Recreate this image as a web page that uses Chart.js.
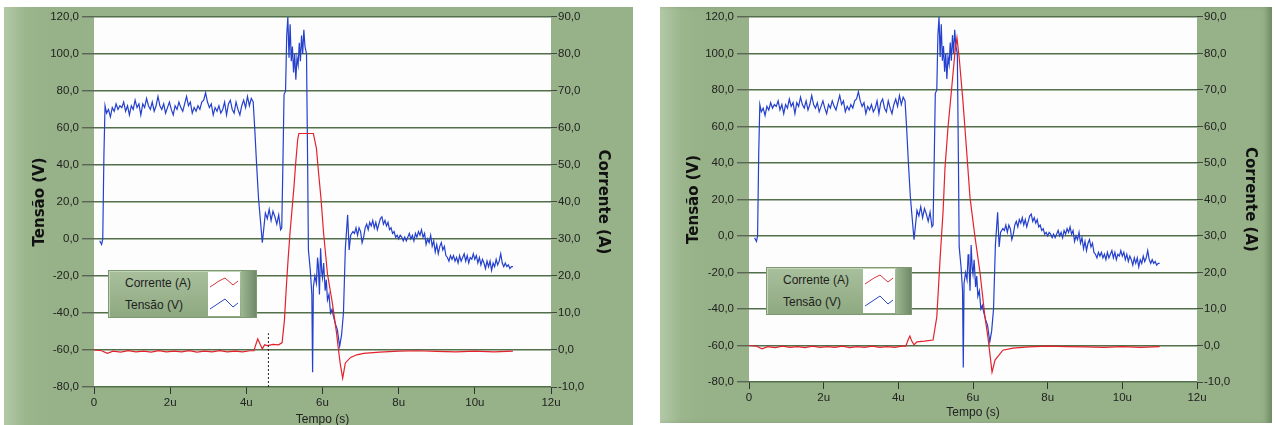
<!DOCTYPE html>
<html>
<head>
<meta charset="utf-8">
<script src="https://cdn.jsdelivr.net/npm/chart.js@4.4.1/dist/chart.umd.min.js"></script>
<style>
  body { margin: 0; width: 1275px; height: 425px; overflow: hidden; background: #fff; position: relative; font-family: "Liberation Sans", Arial, sans-serif; }
  .panel { position: absolute; background: linear-gradient(to right, #b3c9a6 0px, #9bb58d 22px, #97b288 40px); }
  .panel canvas { position: absolute; left: 0; top: 0; }
  .legend { position: absolute; height: 46px; background: linear-gradient(#a9bf9c, #8ea981); border: 1px solid #7f9a72; box-shadow: inset 1px 1px 0 #c3d5b8; }
  .legend .row { position: absolute; left: 16px; font-size: 12px; color: #1e1e1e; }
  .legend .sw { position: absolute; top: 1px; width: 32px; height: 44px; background: #fff; }
  .legend .bevel { position: absolute; top: 0; right: 0; width: 15px; height: 46px; background: linear-gradient(to right, #9db791, #71896a); }
</style>
</head>
<body>
<div class="panel" style="left:4px;top:7px;width:629px;height:418px">
  <canvas id="c1" width="629" height="418"></canvas>
  <div class="legend" style="left:104px;top:263px;width:147px">
    <div class="row" style="top:5px">Corrente (A)</div>
    <div class="row" style="top:27px">Tensão (V)</div>
    <div class="sw" style="left:99px">
      <svg width="32" height="44"><polyline points="2,15 11,9 17,6 25,13 30,9" fill="none" stroke="#d8353b" stroke-width="1"/><polyline points="2,37 11,31 17,27 25,35 30,31" fill="none" stroke="#2b46c6" stroke-width="1"/></svg>
    </div>
    <div class="bevel"></div>
  </div>
</div>
<div class="panel" style="left:660px;top:7px;width:612px;height:416px;box-shadow: inset -7px 0 6px -3px #6d8762;">
  <canvas id="c2" width="612" height="416"></canvas>
  <div class="legend" style="left:106px;top:260px;width:144px">
    <div class="row" style="top:5px">Corrente (A)</div>
    <div class="row" style="top:27px">Tensão (V)</div>
    <div class="sw" style="left:96px">
      <svg width="32" height="44"><polyline points="2,15 11,9 17,6 25,13 30,9" fill="none" stroke="#d8353b" stroke-width="1"/><polyline points="2,37 11,31 17,27 25,35 30,31" fill="none" stroke="#2b46c6" stroke-width="1"/></svg>
    </div>
    <div class="bevel"></div>
  </div>
</div>
<script>
// time in microseconds, tension in volts (left axis)
const tensao = [
  [0.15,-1],[0.20,-3],[0.23,0],[0.26,45],[0.29,72],
  [0.33,68],[0.38,70],[0.43,66],[0.48,71],[0.53,69],[0.58,73],[0.63,70],[0.68,72],[0.73,71],[0.78,74],[0.83,69],[0.88,72],[0.93,67],[0.98,72],
  [1.03,70],[1.08,75],[1.13,71],[1.18,73],[1.23,67],[1.28,73],[1.33,71],[1.38,76],[1.43,72],[1.48,70],[1.53,74],[1.58,69],[1.63,72],[1.68,77],[1.73,72],[1.78,70],[1.83,73],[1.88,68],[1.93,71],[1.98,74],
  [2.03,70],[2.08,67],[2.13,72],[2.18,70],[2.23,74],[2.28,71],[2.33,69],[2.38,73],[2.43,77],[2.48,72],[2.53,74],[2.58,68],[2.63,71],[2.68,69],[2.73,72],[2.78,70],[2.83,74],[2.88,75],[2.93,79],[2.98,74],
  [3.03,71],[3.08,73],[3.13,67],[3.18,71],[3.23,69],[3.28,72],[3.33,68],[3.38,70],[3.43,74],[3.48,67],[3.53,73],[3.58,75],[3.63,70],[3.68,68],[3.73,74],[3.78,70],[3.83,67],[3.88,72],[3.93,75],[3.98,71],
  [4.03,77],[4.08,72],[4.13,76],[4.18,74],
  [4.22,60],[4.27,40],[4.32,22],[4.37,10],[4.42,-2],[4.46,6],[4.50,14],[4.55,11],[4.60,16],[4.65,10],[4.70,15],[4.75,12],[4.80,8],[4.85,13],[4.90,5],[4.93,6],
  [4.96,40],[4.99,78],[5.03,80],[5.06,110],[5.09,120],[5.12,98],[5.15,116],[5.18,96],[5.21,104],[5.24,90],[5.27,100],[5.30,86],[5.33,98],[5.36,94],[5.39,106],[5.42,96],[5.45,110],[5.48,100],[5.51,113],[5.54,104],[5.58,100],
  [5.61,40],[5.63,-6],[5.68,-17],[5.72,-30],[5.74,-72],[5.76,-26],[5.80,-20],[5.84,-24],[5.87,-10],[5.89,-14],[5.92,-30],[5.95,-5],[5.98,-18],[6.00,-21],[6.03,-13],[6.07,-28],[6.10,-22],[6.13,-33],[6.17,-30],[6.21,-40],[6.25,-38],[6.29,-42],[6.34,-46],[6.39,-49],[6.45,-58],[6.50,-52],[6.55,-40],[6.60,-5],[6.66,13],[6.70,-6],[6.74,2],
  [6.80,4],[6.84,3],[6.88,6],[6.92,2],[6.96,6],[7.00,4],[7.04,-2],[7.08,1],[7.12,6],[7.16,8],[7.20,5],[7.24,9],[7.28,7],[7.32,10],[7.36,6],[7.40,9],[7.44,5],[7.48,8],[7.52,11],[7.56,12],[7.60,8],[7.64,10],[7.68,7],[7.72,9],[7.76,5],[7.80,6],[7.84,3],[7.88,4],[7.92,1],[7.96,2],
  [8.00,0],[8.04,2],[8.08,1],[8.12,-1],[8.16,1],[8.20,-1],[8.24,1],[8.28,3],[8.32,0],[8.36,2],[8.40,-1],[8.44,3],[8.48,1],[8.52,4],[8.56,2],[8.60,5],[8.64,1],[8.68,3],[8.72,-3],[8.76,0],[8.80,-2],[8.84,2],[8.88,-4],[8.92,-1],[8.96,-7],
  [9.00,-3],[9.04,-8],[9.08,-4],[9.12,-2],[9.16,-6],[9.20,-4],[9.24,-9],[9.28,-10],[9.32,-12],[9.36,-9],[9.40,-11],[9.44,-9],[9.48,-12],[9.52,-10],[9.56,-13],[9.60,-9],[9.64,-12],[9.68,-10],[9.72,-8],[9.76,-12],[9.80,-9],[9.84,-13],[9.88,-10],[9.92,-11],[9.96,-8],
  [10.00,-11],[10.04,-9],[10.08,-13],[10.12,-10],[10.16,-14],[10.20,-11],[10.24,-13],[10.28,-16],[10.32,-12],[10.36,-15],[10.40,-12],[10.44,-17],[10.48,-13],[10.52,-15],[10.56,-11],[10.60,-14],[10.64,-12],[10.68,-8],[10.72,-13],[10.76,-15],[10.80,-13],[10.84,-15],[10.88,-14],[10.92,-16],[10.96,-15],[11.00,-15]
];

// current in amperes (right axis), left graph: clipped at ~58 A
const corrente1 = [
  [0,0],[0.2,-0.2],[0.35,-0.9],[0.5,-0.3],[0.7,-0.6],[0.9,-0.2],[1.1,-0.5],[1.3,-0.3],[1.5,-0.6],[1.7,-0.2],[1.9,-0.5],[2.1,-0.3],[2.3,-0.5],[2.5,-0.2],[2.7,-0.6],[2.9,-0.3],[3.1,-0.5],[3.3,-0.2],[3.5,-0.5],[3.7,-0.3],[3.9,-0.5],[4.1,-0.2],[4.2,-0.2],
  [4.25,1.5],[4.3,3.0],[4.36,1.6],[4.42,0.3],[4.48,1.4],[4.55,1.2],[4.7,1.5],[4.85,1.4],[4.94,2.0],
  [5.0,8],[5.05,17],[5.1,25],[5.15,32],[5.2,38],[5.25,44],[5.3,51],[5.35,57],[5.38,58.5],[5.76,58.5],
  [5.84,54.5],[5.9,47.5],[5.96,41],[6.03,31.4],[6.13,20.6],[6.26,12.6],[6.37,4.5],[6.42,0],[6.47,-4],[6.53,-7.6],[6.6,-3.5],[6.74,-2],[6.9,-1.3],[7.08,-0.9],
  [7.5,-0.6],[8.0,-0.3],[8.5,-0.2],[9.0,-0.4],[9.5,-0.5],[10.0,-0.3],[10.5,-0.5],[11.0,-0.3]
];

// current in amperes, right graph: full triangular peak
const corrente2 = [
  [0,0],[0.2,-0.2],[0.35,-0.9],[0.5,-0.3],[0.7,-0.6],[0.9,-0.2],[1.1,-0.5],[1.3,-0.3],[1.5,-0.6],[1.7,-0.2],[1.9,-0.5],[2.1,-0.3],[2.3,-0.5],[2.5,-0.2],[2.7,-0.6],[2.9,-0.3],[3.1,-0.5],[3.3,-0.2],[3.5,-0.5],[3.7,-0.3],[3.9,-0.5],[4.1,-0.2],[4.2,-0.2],
  [4.26,1.5],[4.31,2.6],[4.36,1.2],[4.42,0.2],[4.5,1.0],[4.7,1.2],[4.93,1.5],
  [5.03,7.8],[5.12,24],[5.2,37],[5.25,48.7],[5.33,59.7],[5.44,71.7],[5.52,80.7],[5.57,84.3],[5.63,78.8],[5.73,67],[5.81,56],[5.92,40.5],
  [6.05,30],[6.19,19.8],[6.32,7.8],[6.4,2.3],[6.51,-7.3],[6.59,-4],[6.8,-1.3],[7.07,-0.7],
  [7.5,-0.4],[8.0,-0.2],[8.5,-0.3],[9.0,-0.4],[9.5,-0.5],[10.0,-0.3],[10.5,-0.5],[11.0,-0.3]
];

// cursor marker on the left graph (time, tension)
const cursor1 = [[4.58,-80],[4.58,-51]];

const tempoTicks = [0, 2, 4, 6, 8, 10, 12];

const toPts = arr => arr.map(p => ({x: p[0], y: p[1]}));
const fmtNum = v => v.toFixed(1).replace('.', ',');
const fmtTempo = v => (v === 0 ? '0' : v + 'u');

const tickFont = {family: '"Liberation Sans", Arial, sans-serif', size: 11.5};
const titleFont = {family: '"DejaVu Sans", sans-serif', size: 15, weight: 'bold'};

const plotBg = {
  id: 'plotBg',
  beforeDraw(chart) {
    const {ctx, chartArea: a} = chart;
    ctx.save();
    ctx.fillStyle = '#fdfdfd';
    ctx.fillRect(a.left, a.top, a.right - a.left, a.bottom - a.top);
    ctx.restore();
  }
};

function makeChart(id, corrente, lay, withCursor) {
  const datasets = [
    {label: 'Tensão (V)', data: toPts(tensao), yAxisID: 'y', borderColor: '#2440cc', borderWidth: 1.2, order: 2},
    {label: 'Corrente (A)', data: toPts(corrente), yAxisID: 'y1', borderColor: '#e3222c', borderWidth: 1.2, order: 1}
  ];
  if (withCursor) {
    datasets.push({label: 'cursor', data: toPts(cursor1), yAxisID: 'y', borderColor: '#222', borderWidth: 1, borderDash: [2, 2], order: 0});
  }
  return new Chart(document.getElementById(id), {
    type: 'line',
    data: {datasets},
    options: {
      responsive: false,
      animation: false,
      elements: {point: {radius: 0}, line: {tension: 0}},
      layout: {padding: {top: lay.top, left: 0, right: 0, bottom: 0}},
      plugins: {legend: {display: false}, tooltip: {enabled: false}},
      scales: {
        x: {
          type: 'linear', min: 0, max: 12,
          afterBuildTicks: s => { s.ticks = tempoTicks.map(v => ({value: v})); },
          afterFit: s => { s.height = lay.bottomH; },
          grid: {drawOnChartArea: false, tickLength: 7, tickColor: '#333'},
          border: {display: false},
          ticks: {callback: fmtTempo, color: '#222', font: tickFont, padding: 2, maxRotation: 0},
          title: {display: true, text: 'Tempo (s)', color: '#222', font: {family: tickFont.family, size: 12}, padding: {bottom: lay.xTitlePad, top: 0}}
        },
        y: {
          position: 'left', min: -80, max: 120,
          ticks: {stepSize: 20, callback: fmtNum, color: '#222', font: tickFont, padding: 3},
          afterFit: s => { s.width = lay.leftW; },
          grid: {color: '#52714a', lineWidth: 1.6, tickLength: 12, tickColor: '#444', tickWidth: 1},
          border: {display: false},
          title: {display: true, text: 'Tensão (V)', color: '#111', font: titleFont, padding: {top: lay.yTitlePad}}
        },
        y1: {
          position: 'right', min: -10, max: 90,
          ticks: {stepSize: 10, callback: fmtNum, color: '#222', font: tickFont, padding: 1},
          afterFit: s => { s.width = lay.rightW; },
          grid: {drawOnChartArea: false, tickLength: 6, tickColor: '#444'},
          border: {display: false},
          title: {display: true, text: 'Corrente (A)', color: '#111', font: titleFont, padding: {top: lay.y1TitlePad}}
        }
      }
    },
    plugins: [plotBg]
  });
}

makeChart('c1', corrente1, {top: 8, leftW: 90, rightW: 82, bottomH: 38, xTitlePad: -2, yTitlePad: 27, y1TitlePad: 21}, true);
makeChart('c2', corrente2, {top: 9, leftW: 89, rightW: 75, bottomH: 41, xTitlePad: 3, yTitlePad: 25, y1TitlePad: 13}, false);
</script>
</body>
</html>
